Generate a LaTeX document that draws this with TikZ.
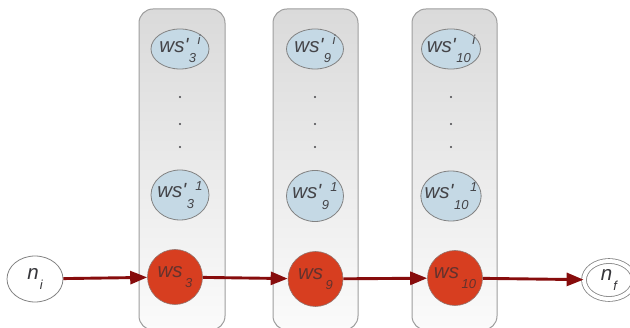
\documentclass[tikz,border=0pt]{standalone}
\usepackage{fontspec}
\newfontfamily\lblfont{Liberation Sans}
\usetikzlibrary{shapes.geometric,arrows.meta}

\definecolor{panelTop}{RGB}{218,218,218}
\definecolor{panelBot}{RGB}{251,251,251}
\definecolor{panelEdge}{RGB}{158,158,158}
\definecolor{stateBlue}{RGB}{197,217,229}
\definecolor{stateRed}{RGB}{215,62,32}
\definecolor{edgeRed}{RGB}{135,12,12}
\definecolor{ringGrey}{RGB}{130,130,130}
\definecolor{labelGrey}{RGB}{68,68,72}
\definecolor{labelRed}{RGB}{100,50,45}

% label helpers: main glyphs, then a lowered index and a raised index
\newcommand{\mainsz}{\lblfont\fontsize{20.5}{20.5}\selectfont\itshape}
\newcommand{\idxsz}{\lblfont\fontsize{13}{13}\selectfont\itshape}
\newcommand{\wsidx}[2]{ws'\hspace{0.5pt}\raisebox{-10.5pt}{\idxsz #1}\hspace{1.5pt}\raisebox{7.5pt}{\idxsz #2}}
\newcommand{\wssub}[1]{ws\hspace{2.5pt}\raisebox{-10.5pt}{\idxsz #1}}
\newcommand{\nsub}[1]{n\hspace{1pt}\raisebox{-9.5pt}{\idxsz #1}}

\tikzset{
  panel/.style={draw=panelEdge, line width=1pt, top color=panelTop, bottom color=panelBot, rounded corners=14pt},
  wsnode/.style={ellipse, draw=ringGrey, line width=0.8pt, fill=stateBlue, inner sep=-5pt,
                 text=labelGrey, font=\mainsz},
  tracenode/.style={circle, draw=ringGrey!80!stateRed, line width=0.6pt, fill=stateRed, inner sep=0pt,
                    minimum size=55pt, text=labelRed, font=\mainsz},
  endnode/.style={ellipse, draw=ringGrey, line width=0.8pt, fill=white, inner sep=-3pt,
                  text=labelGrey!80!black, font=\mainsz},
  dotmark/.style={circle, fill=labelGrey, inner sep=0pt, minimum size=2.2pt},
  flow/.style={draw=edgeRed, line width=2.9pt, -{Triangle[length=17pt,width=13pt]}},
}

\begin{document}
\begin{tikzpicture}[x=1pt,y=-1pt]
\useasboundingbox (0,0) rectangle (630,328);
\fill[white] (0,0) rectangle (630,328);

% column panels (open at the bottom edge)
\path[panel] (139,9) rectangle (225,330);
\path[panel] (273,9) rectangle (358,330);
\path[panel] (412,9) rectangle (497,330);

% column 3
\node[wsnode, minimum width=58pt, minimum height=40pt] (a3) at (180,49) {\wsidx{3}{i}};
\node[dotmark] (a3d1) at (180,97) {};
\node[dotmark] (a3d2) at (180,124) {};
\node[dotmark] (a3d3) at (180,147) {};
\node[wsnode, minimum width=58pt, minimum height=50pt] (b3) at (180,195) {\wsidx{3}{1}};
\node[tracenode] (w3) at (175,277) {\wssub{3}};

% column 9
\node[wsnode, minimum width=57pt, minimum height=40pt] (a9) at (315,49) {\wsidx{9}{i}};
\node[dotmark] (a9d1) at (315,97) {};
\node[dotmark] (a9d2) at (315,124) {};
\node[dotmark] (a9d3) at (315,147) {};
\node[wsnode, minimum width=57pt, minimum height=51pt] (b9) at (315,196) {\wsidx{9}{1}};
\node[tracenode] (w9) at (315.5,279) {\wssub{9}};

% column 10
\node[wsnode, minimum width=59pt, minimum height=40pt] (a10) at (451,49) {\wsidx{10}{i}};
\node[dotmark] (a10d1) at (451,97) {};
\node[dotmark] (a10d2) at (451,124) {};
\node[dotmark] (a10d3) at (451,147) {};
\node[wsnode, minimum width=59pt, minimum height=50pt] (b10) at (451,196) {\wsidx{10}{1}};
\node[tracenode] (w10) at (455,278) {\wssub{10}};

% start and final states
\node[endnode, minimum width=56pt, minimum height=46pt] (ni) at (35,279) {\nsub{i}};
\node[endnode, minimum width=50pt, minimum height=38pt, double=white, double distance=4pt] (nf) at (609,280) {\nsub{f}};

% transitions
\draw[flow] (ni) -- (w3);
\draw[flow] (w3) -- (w9);
\draw[flow] (w9) -- (w10);
\draw[flow] (w10) -- (nf);
\end{tikzpicture}
\end{document}
